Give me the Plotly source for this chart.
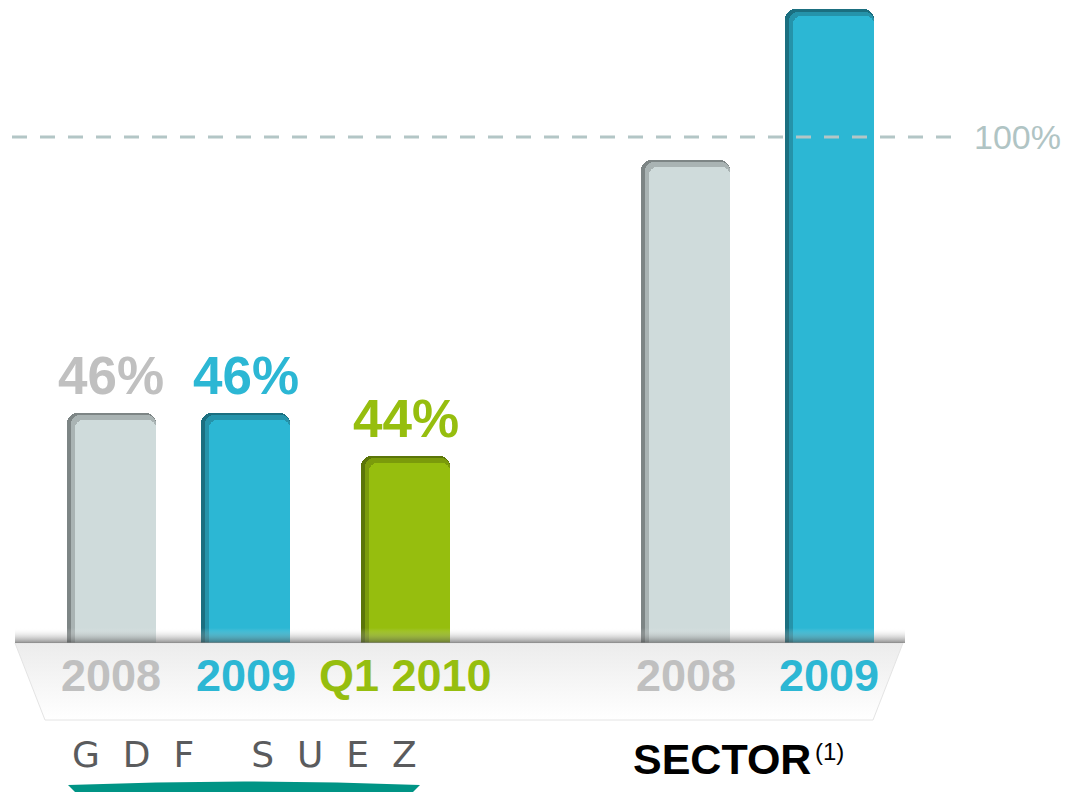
import plotly.graph_objects as go

# data
categories = ["2008", "2009", "Q1 2010", "2008", "2009"]
groups = ["GDF SUEZ", "GDF SUEZ", "GDF SUEZ", "SECTOR", "SECTOR"]
bar_values = [45.5, 45.5, 37.0, 95.5, 125.3]   # bar heights (100% line = 100)
value_labels = ["46%", "46%", "44%", "", ""]
reference_level = 100
reference_label = "100%"

# layout / styles
bar_x = [111, 245.5, 405.5, 685.5, 829]
bar_w = 89
light = ["#cfdbdb", "#2cb7d4", "#96be0e", "#cfdbdb", "#2cb7d4"]
mid = ["#a9b3b3", "#2593aa", "#7b9b0b", "#a9b3b3", "#2593aa"]
dark = ["#7d8585", "#1b6f80", "#5b7508", "#7d8585", "#1b6f80"]
text_col = ["#c0c0c0", "#2cb7d4", "#96be0e", "#c0c0c0", "#2cb7d4"]
W, H = 1071, 792
OFF = 8                      # page body margin
base_px, ref_px = 643, 137
ppu = (base_px - ref_px) / reference_level
y_top = (base_px - OFF) / ppu
y_bot = -(H - base_px) / ppu
FONT = "Liberation Sans, Arial, sans-serif"


def py(p):
    # page pixel row -> value units
    return (base_px - p) / ppu


fig = go.Figure()

# floor
fl_top, fl_bot = 0, py(720)
fig.add_trace(go.Scatter(
    x=[15, 903, 873, 45, 15], y=[fl_top, fl_top, fl_bot, fl_bot, fl_top],
    fill="toself", mode="lines", line=dict(color="#e4e4e4", width=1),
    fillgradient=dict(type="vertical", start=fl_bot, stop=fl_top,
                      colorscale=[[0, "#ffffff"], [1, "#ececec"]]),
    hoverinfo="skip", showlegend=False))

# bars: dark base, mid, light face (gives the bevel look)
fig.add_trace(go.Bar(x=bar_x, y=bar_values, width=bar_w,
                     marker=dict(color=dark, cornerradius=10, line_width=0),
                     hoverinfo="skip", showlegend=False))
fig.add_trace(go.Bar(x=[v + 2 for v in bar_x], y=[v - 0.5 for v in bar_values], width=bar_w - 4,
                     marker=dict(color=mid, cornerradius=9, line_width=0),
                     hoverinfo="skip", showlegend=False))
fig.add_trace(go.Bar(x=[v + 4 for v in bar_x], y=[v - 1.4 for v in bar_values], width=bar_w - 8,
                     marker=dict(color=light, cornerradius=8, line_width=0),
                     hoverinfo="skip", showlegend=False))

# shadow band above the floor edge
sh_top = py(628)
fig.add_trace(go.Scatter(
    x=[15, 905, 905, 15, 15], y=[0, 0, sh_top, sh_top, 0],
    fill="toself", mode="lines", line=dict(width=0),
    fillgradient=dict(type="vertical", start=0, stop=sh_top,
                      colorscale=[[0, "rgba(70,70,70,0.6)"], [1, "rgba(255,255,255,0)"]]),
    hoverinfo="skip", showlegend=False))

# 100% reference line
fig.add_trace(go.Scatter(x=[12, 955], y=[reference_level] * 2, mode="lines",
                         line=dict(color="#b3c6c6", width=3, dash="15px,13px"),
                         hoverinfo="skip", showlegend=False))

anns = [dict(x=972, y=reference_level, text=reference_label, showarrow=False,
             font=dict(family=FONT, size=34, color="#b0c4c4"), xanchor="left", yanchor="middle")]

for xv, v, lab, c in zip(bar_x, bar_values, value_labels, text_col):
    if lab:
        anns.append(dict(x=xv, y=v, text=f"<b>{lab}</b>", showarrow=False, yanchor="bottom",
                         yshift=6, font=dict(family=FONT, size=53, color=c)))

for xv, cat, c in zip(bar_x, categories, text_col):
    anns.append(dict(x=xv, y=py(675), text=f"<b>{cat}</b>", showarrow=False,
                     yanchor="middle", font=dict(family=FONT, size=45, color=c)))

# group labels
nb = "\u00a0"
logo = (nb * 2).join("GDF") + nb * 5 + (nb * 2).join("SUEZ")
anns.append(dict(x=244, y=py(754), text=logo, showarrow=False,
                 yanchor="middle", font=dict(family="DejaVu Sans, sans-serif", size=36, color="#5a5b5d")))
anns.append(dict(x=813, y=py(759), text="<b>SECTOR</b>", showarrow=False, xanchor="right",
                 yanchor="middle", font=dict(family=FONT, size=43, color="#000000")))
anns.append(dict(x=813, y=py(751), text="(1)", showarrow=False, xanchor="left",
                 yanchor="middle", font=dict(family=FONT, size=24, color="#000000")))

# teal swoosh under the logo
shapes = [dict(type="path", xref="x", yref="y",
               path=f"M 68 {py(785)} Q 244 {py(778)} 420 {py(785)} L 405 {py(800)} L 83 {py(800)} Z",
               fillcolor="#009485", line=dict(width=0))]

fig.update_layout(
    width=W - OFF, height=H - OFF, margin=dict(l=0, r=0, t=0, b=0),
    paper_bgcolor="white", plot_bgcolor="white",
    barmode="overlay", bargap=0,
    xaxis=dict(range=[OFF, W], visible=False, fixedrange=True),
    yaxis=dict(range=[y_bot, y_top], visible=False, fixedrange=True),
    annotations=anns, shapes=shapes, showlegend=False,
)

fig.write_html("out.html")
